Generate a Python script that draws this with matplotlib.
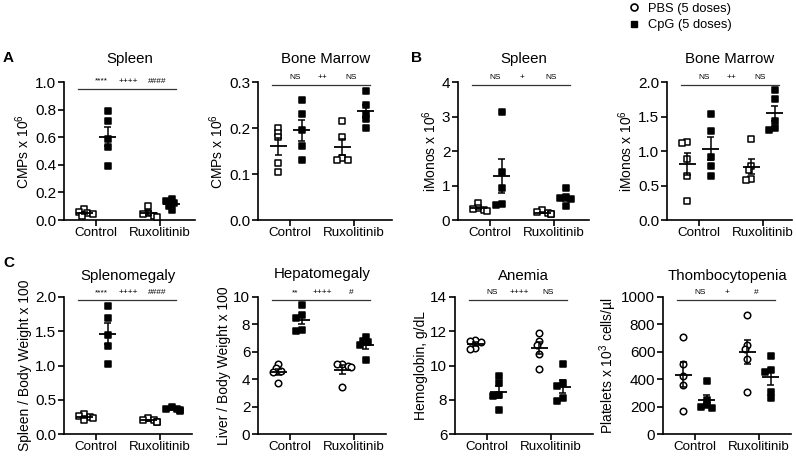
import numpy as np
import matplotlib.pyplot as plt

plt.rcParams['font.family'] = ['Liberation Sans', 'DejaVu Sans']
plt.rcParams['mathtext.default'] = 'regular'

groups = ['Control', 'Ruxolitinib']
legend_labels = ['PBS (5 doses)', 'CpG (5 doses)']

# A - CMPs x 10^6, each list: [Control, Ruxolitinib]
cmp_spleen_pbs = [[0.08, 0.06, 0.05, 0.04, 0.03], [0.10, 0.05, 0.04, 0.03, 0.02]]
cmp_spleen_cpg = [[0.79, 0.72, 0.59, 0.53, 0.39], [0.15, 0.14, 0.12, 0.10, 0.07]]
cmp_bm_pbs = [[0.20, 0.19, 0.18, 0.125, 0.105], [0.215, 0.18, 0.135, 0.13, 0.13]]
cmp_bm_cpg = [[0.26, 0.23, 0.195, 0.16, 0.13], [0.28, 0.25, 0.23, 0.22, 0.20]]

# B - iMonos x 10^6
imono_spleen_pbs = [[0.49, 0.35, 0.32, 0.30, 0.27], [0.28, 0.22, 0.20, 0.18, 0.17]]
imono_spleen_cpg = [[3.14, 1.38, 0.94, 0.46, 0.43], [0.92, 0.68, 0.64, 0.60, 0.40]]
imono_bm_pbs = [[1.13, 1.11, 0.89, 0.64, 0.28], [1.18, 0.78, 0.72, 0.60, 0.58]]
imono_bm_cpg = [[1.54, 1.29, 0.91, 0.78, 0.64], [1.88, 1.75, 1.44, 1.34, 1.31]]

# C
spleen_wt_pbs = [[0.29, 0.27, 0.25, 0.23, 0.21], [0.23, 0.21, 0.20, 0.18, 0.17]]
spleen_wt_cpg = [[1.87, 1.70, 1.45, 1.28, 1.02], [0.39, 0.37, 0.36, 0.35, 0.34]]
liver_wt_pbs = [[5.1, 4.8, 4.6, 4.5, 3.7], [5.1, 5.1, 5.0, 4.9, 3.4]]
liver_wt_cpg = [[9.4, 8.7, 8.5, 7.6, 7.55], [7.1, 6.8, 6.7, 6.5, 5.4]]
hgb_pbs = [[11.5, 11.45, 11.35, 11.05, 10.95], [11.9, 11.45, 11.2, 10.7, 9.8]]
hgb_cpg = [[9.4, 9.0, 8.3, 8.2, 7.4], [10.1, 8.95, 8.8, 8.1, 7.9]]
plt_pbs = [[710, 510, 420, 360, 170], [870, 650, 620, 545, 310]]
plt_cpg = [[390, 250, 210, 200, 190], [570, 470, 450, 310, 265]]

W, H = 796, 457
fig = plt.figure(figsize=(W / 100, H / 100), dpi=100)

XU = 64.0   # px per group unit
AX_H = 138.0


def swarm_offsets(vals, ylo, yhi, size=4.5):
    order = np.argsort(vals)[::-1]
    placed = []
    offs = np.zeros(len(vals))
    for i in order:
        yp = (vals[i] - ylo) / (yhi - ylo) * AX_H
        for k in [0, -0.6, 0.6, -1.2, 1.2, -1.8, 1.8]:
            xp = k * size
            if all(np.hypot(xp - a, yp - b) >= size for a, b in placed):
                break
        placed.append((xp, yp))
        offs[i] = xp / XU
    return offs


def panel(left_px, bottom_px, top_px, right_lim, pbs, cpg, ylim, yticks, fmt,
          ylabel, title, sig, pbs_marker, title_pad=12, line_y=0.975):
    ax = fig.add_axes([left_px / W, 1 - bottom_px / H,
                       (right_lim - 0.5) * XU / W, (bottom_px - top_px) / H])
    for gi in range(2):
        for series, dx, filled in [(pbs, -0.18, False), (cpg, 0.18, True)]:
            vals = np.array(series[gi], dtype=float)
            x0 = gi + 1 + dx
            xs = x0 + swarm_offsets(vals, ylim[0], ylim[1])
            mk = 's' if filled else pbs_marker
            ax.scatter(xs, vals, marker=mk, s=20 if mk == 's' else 22,
                       facecolor='black' if filled else 'white',
                       edgecolor='black', linewidth=1.1, zorder=3, clip_on=False)
            m = vals.mean()
            sem = vals.std(ddof=1) / np.sqrt(len(vals))
            ax.hlines(m, x0 - 0.14, x0 + 0.14, color='black', lw=1.3, zorder=4)
            ax.vlines(x0, m - sem, m + sem, color='black', lw=1.1, zorder=4)
            ax.hlines([m - sem, m + sem], x0 - 0.06, x0 + 0.06, color='black',
                      lw=1.1, zorder=4)
    ax.set_xlim(0.5, right_lim)
    ax.set_ylim(*ylim)
    ax.set_xticks([1, 2])
    ax.set_xticklabels(groups, fontsize=9.6)
    ax.set_yticks(yticks)
    ax.set_yticklabels([fmt.format(t) for t in yticks], fontsize=11)
    for s in ['top', 'right']:
        ax.spines[s].set_visible(False)
    for s in ['left', 'bottom']:
        ax.spines[s].set_linewidth(1.2)
    ax.tick_params(width=1.2, length=4, pad=1.5)
    ax.tick_params(axis='x', pad=1)
    ax.set_ylabel(ylabel, fontsize=10, labelpad=2)
    ax.set_title(title, fontsize=10.8, pad=title_pad)
    tr = ax.get_xaxis_transform()
    ax.plot([0.72, 2.25], [line_y, line_y], color='#333333', lw=0.9,
            transform=tr, clip_on=False)
    for xt, t in zip([1.08, 1.5, 1.95], sig):
        ax.text(xt, line_y + 0.03, t, transform=tr, fontsize=6,
                ha='center', va='bottom')
    return ax


# row 1
panel(64, 220, 82, 2.55, cmp_spleen_pbs, cmp_spleen_cpg, (0, 1.0),
      np.arange(0, 1.01, 0.2), '{:.1f}', 'CMPs x 10$^6$', 'Spleen',
      ['****', '++++', '####'], 's', title_pad=14, line_y=0.95)
panel(258, 220, 82, 2.6, cmp_bm_pbs, cmp_bm_cpg, (0, 0.3),
      np.arange(0, 0.31, 0.1), '{:.1f}', 'CMPs x 10$^6$', 'Bone Marrow',
      ['NS', '++', 'NS'], 's', title_pad=14)
panel(458, 220, 82, 2.55, imono_spleen_pbs, imono_spleen_cpg, (0, 4),
      [0, 1, 2, 3, 4], '{:d}', 'iMonos x 10$^6$', 'Spleen',
      ['NS', '+', 'NS'], 's', title_pad=14)
panel(667, 220, 82, 2.45, imono_bm_pbs, imono_bm_cpg, (0, 2.0),
      np.arange(0, 2.01, 0.5), '{:.1f}', 'iMonos x 10$^6$', 'Bone Marrow',
      ['NS', '++', 'NS'], 's', title_pad=14)

# row 2
panel(64, 434, 297, 2.5, spleen_wt_pbs, spleen_wt_cpg, (0, 2.0),
      np.arange(0, 2.01, 0.5), '{:.1f}', 'Spleen / Body Weight x 100',
      'Splenomegaly', ['****', '++++', '####'], 's')
panel(258, 434, 297, 2.5, liver_wt_pbs, liver_wt_cpg, (0, 10),
      [0, 2, 4, 6, 8, 10], '{:d}', 'Liver / Body Weight x 100',
      'Hepatomegaly', ['**', '++++', '#'], 'o', title_pad=14)
panel(455, 434, 297, 2.65, hgb_pbs, hgb_cpg, (6, 14),
      [6, 8, 10, 12, 14], '{:d}', 'Hemoglobin, g/dL',
      'Anemia', ['NS', '++++', 'NS'], 'o')
panel(663, 434, 297, 2.5, plt_pbs, plt_cpg, (0, 1000),
      [0, 200, 400, 600, 800, 1000], '{:d}',
      'Platelets x 10$^3$ cells/\u00b5l', 'Thombocytopenia',
      ['NS', '+', '#'], 'o')

for lab, x, y in [('A', 3, 58), ('B', 411, 58), ('C', 3, 263)]:
    fig.text(x / W, 1 - y / H, lab, fontsize=11, fontweight='bold',
             va='center', ha='left')

h1 = plt.Line2D([], [], marker='o', ls='none', mfc='white', mec='black',
                mew=1.2, ms=5)
h2 = plt.Line2D([], [], marker='s', ls='none', mfc='black', mec='black', ms=5)
fig.legend([h1, h2], legend_labels, loc='upper left',
           bbox_to_anchor=(622 / W, 1.005), frameon=False, fontsize=9.3,
           handlelength=1.0, handletextpad=0.6, labelspacing=0.35,
           borderaxespad=0)

fig.savefig('out.png', dpi=100)
